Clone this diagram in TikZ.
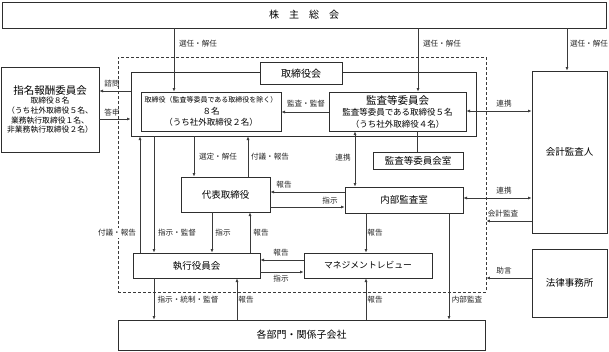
\documentclass[tikz,border=0pt]{standalone}
\usepackage{fontspec}
\newfontfamily\cjk{Noto Sans CJK JP}
\usetikzlibrary{arrows.meta,calc}
\definecolor{framegray}{HTML}{2E2E2E}
\definecolor{linegray}{HTML}{3A3A3A}

\tikzset{
  orgbox/.style={draw=framegray,line width=0.8pt,fill=white,inner sep=0pt,
    align=center,font=\cjk\fontsize{9.5}{12}\selectfont},
  flowlabel/.style={font=\cjk\fontsize{7.6}{8}\selectfont,inner sep=1pt,text=black!85},
  oneway/.style={draw=linegray,line width=0.7pt,-{Latex[length=3.6pt,width=3pt]}},
  twoway/.style={draw=linegray,line width=0.7pt,
    {Latex[length=3.6pt,width=3pt]}-{Latex[length=3.6pt,width=3pt]}},
}

\begin{document}
\begin{tikzpicture}[x=1pt,y=-1pt,line cap=butt,line join=miter]
  \useasboundingbox (0,0) rectangle (609,351);

  % General meeting across the top.
  \node[orgbox,minimum width=604pt,minimum height=26pt,font=\cjk\fontsize{10}{12}\selectfont]
    (gm) at (304,15) {株\quad 主\quad 総\quad 会};

  % Dashed governance area and the board frame inside it.
  \node[draw=linegray,dashed,dash pattern=on 3pt off 2pt,line width=0.7pt,
    minimum width=368pt,minimum height=235pt,inner sep=0pt] (cg) at (302,174.5) {};
  \node[draw=framegray,line width=0.8pt,minimum width=345pt,minimum height=63.3pt,
    inner sep=0pt] (bd) at (303.5,104.35) {};
  \node[orgbox,minimum width=82pt,minimum height=22pt,font=\cjk\fontsize{10}{12}\selectfont]
    (bdl) at (301,73.5) {取締役会};

  \node[orgbox,minimum width=140pt,minimum height=39pt,font=\cjk\fontsize{8.5}{11.5}\selectfont]
    (kt) at (211,111.5)
    {{\fontsize{7}{11.5}\selectfont 取締役（監査等委員である取締役を除く）}\\８名\\（うち社外取締役２名）};
  \node[orgbox,minimum width=137pt,minimum height=39pt,font=\cjk\fontsize{8.5}{11.5}\selectfont]
    (ak) at (397.5,111.5)
    {{\fontsize{10.5}{11.5}\selectfont 監査等委員会}\\監査等委員である取締役５名\\（うち社外取締役４名）};
  \node[orgbox,minimum width=90pt,minimum height=17pt] (aks) at (418,160.5) {監査等委員会室};

  \node[orgbox,minimum width=89pt,minimum height=35pt] (dt) at (225.5,194.5) {代表取締役};
  \node[orgbox,minimum width=118pt,minimum height=26pt] (nk) at (404,200) {内部監査室};
  \node[orgbox,minimum width=127pt,minimum height=25pt] (sy) at (196.5,265.5) {執行役員会};
  \node[orgbox,minimum width=128pt,minimum height=25pt,font=\cjk\fontsize{8.8}{11}\selectfont]
    (mr) at (368,265.5) {マネジメントレビュー};
  \node[orgbox,minimum width=367pt,minimum height=30pt,font=\cjk\fontsize{10}{12}\selectfont]
    (kb) at (301.5,335) {各部門・関係子会社};

  % Outside bodies.
  \node[orgbox,minimum width=98pt,minimum height=85pt,font=\cjk\fontsize{7.8}{9.6}\selectfont]
    (sh) at (50,109.5)
    {{\fontsize{10.5}{12}\selectfont 指名報酬委員会}\\取締役８名\\（うち社外取締役５名、\\業務執行取締役１名、\\非業務執行取締役２名）};
  \node[orgbox,minimum width=75pt,minimum height=162pt] (ka) at (569.5,152) {会計監査人};
  \node[orgbox,minimum width=75pt,minimum height=68pt] (hj) at (569.5,283) {法律事務所};

  % Connectors.
  \draw[oneway] (gm.south -| 174,0) -- (kt.north -| 174,0);
  \draw[oneway] (gm.south -| 418,0) -- (ak.north -| 418,0);
  \draw[oneway] (gm.south -| 567,0) -- (ka.north -| 567,0);
  \draw[oneway] (bd.west |- 0,91) -- (sh.east |- 0,91);
  \draw[oneway] (sh.east |- 0,119) -- (bd.west |- 0,119);
  \draw[oneway] (ak.west |- 0,112) -- (kt.east |- 0,112);
  \draw[twoway] (ak.east |- 0,111) -- (ka.west |- 0,111);
  \draw[twoway] (ak.south -| 355,0) -- (nk.north -| 355,0);
  \draw[draw=linegray,line width=0.7pt] (ak.south -| 417,0) -- (aks.north -| 417,0);
  \draw[oneway] (bd.south -| 194,0) -- (dt.north -| 194,0);
  \draw[oneway] (dt.north -| 248,0) -- (bd.south -| 248,0);
  \draw[oneway] (nk.west |- 0,192) -- (dt.east |- 0,192);
  \draw[oneway] (dt.east |- 0,207) -- (nk.west |- 0,207);
  \draw[twoway] (nk.east |- 0,198) -- (ka.west |- 0,198);
  \draw[oneway] (ka.west |- 0,221) -- (cg.east |- 0,221);
  \draw[oneway] (hj.west |- 0,278) -- (cg.east |- 0,278);
  \draw[oneway] (sy.north -| 140,0) -- (bd.south -| 140,0);
  \draw[oneway] (bd.south -| 154,0) -- (sy.north -| 154,0);
  \draw[oneway] (dt.south -| 212,0) -- (sy.north -| 212,0);
  \draw[oneway] (sy.north -| 250,0) -- (dt.south -| 250,0);
  \draw[oneway] (nk.south -| 366,0) -- (mr.north -| 366,0);
  \draw[oneway] (mr.west |- 0,260) -- (sy.east |- 0,260);
  \draw[oneway] (sy.east |- 0,272) -- (mr.west |- 0,272);
  \draw[oneway] (sy.south -| 154,0) -- (kb.north -| 154,0);
  \draw[oneway] (kb.north -| 237,0) -- (sy.south -| 237,0);
  \draw[oneway] (kb.north -| 366,0) -- (mr.south -| 366,0);
  \draw[oneway] (nk.south -| 449,0) -- (kb.north -| 449,0);

  % Connector labels.
  \foreach \nm/\xx/\yy/\txt in {
    sn1/198/44/選任・解任, sn2/442/44/選任・解任, sn3/589/44/選任・解任,
    sm/112/84/諮問, ts/112/113/答申, kk/306/104/監査・監督, rk1/504/104/連携,
    rk2/343/158/連携, st/218/157/選定・解任, fh1/270/157/付議・報告,
    hk1/284/185/報告, sj1/330/201/指示, rk3/504/191/連携, kki/503/214/会計監査,
    jg/504/271/助言, sk/177/233/指示・監督, sj2/223/233/指示, hk2/261/233/報告,
    hk3/375/233/報告, hk4/281/253/報告, sj3/281/279/指示,
    stk/188/300/指示・統制・監督, hk5/246/300/報告, hk6/375/300/報告,
    nka/467/300/内部監査}{
    \node[flowlabel] (lb-\nm) at (\xx,\yy) {\txt};
  }
  \node[flowlabel,fill=white] (lb-fh2) at (117,233) {付議・報告};
\end{tikzpicture}
\end{document}
